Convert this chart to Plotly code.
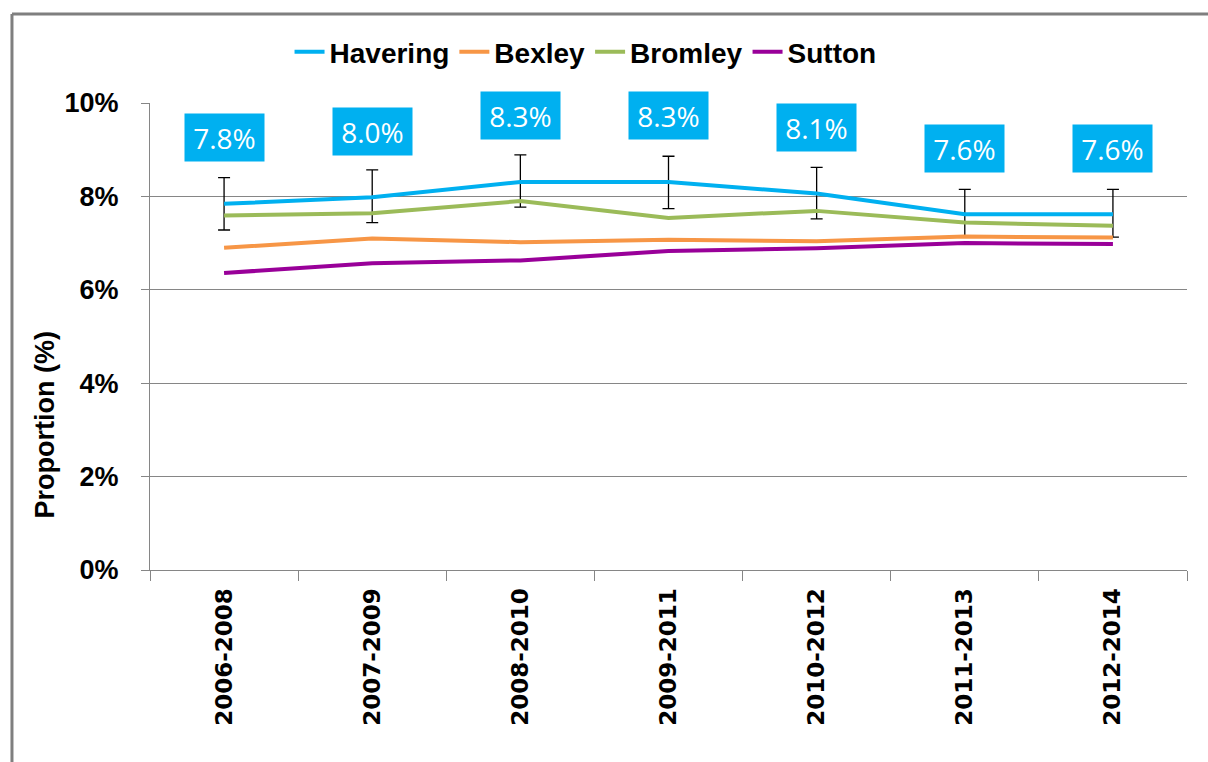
import plotly.graph_objects as go

periods = ["2006-2008", "2007-2009", "2008-2010", "2009-2011", "2010-2012", "2011-2013", "2012-2014"]
havering = [7.84, 7.98, 8.31, 8.31, 8.06, 7.62, 7.62]
havering_upper = [8.40, 8.57, 8.89, 8.86, 8.62, 8.15, 8.15]
havering_lower = [7.28, 7.44, 7.77, 7.74, 7.52, 7.16, 7.13]
bexley = [6.90, 7.10, 7.02, 7.07, 7.04, 7.14, 7.12]
bromley = [7.59, 7.64, 7.90, 7.54, 7.69, 7.44, 7.37]
sutton = [6.36, 6.57, 6.63, 6.83, 6.89, 7.00, 6.98]
y_ticks = [0, 2, 4, 6, 8, 10]
y_tick_text = ["0%", "2%", "4%", "6%", "8%", "10%"]

c_hav = "#00B0F0"
c_bex = "#F79646"
c_bro = "#9BBB59"
c_sut = "#990099"

fig = go.Figure()
fig.add_trace(go.Scatter(
    x=periods, y=havering, mode="lines", name="Havering",
    line=dict(color=c_hav, width=4),
    error_y=dict(type="data", symmetric=False,
                 array=[u - v for u, v in zip(havering_upper, havering)],
                 arrayminus=[v - l for v, l in zip(havering, havering_lower)],
                 color="#000000", thickness=1.3, width=6),
))
fig.add_trace(go.Scatter(x=periods, y=bexley, mode="lines", name="Bexley",
                         line=dict(color=c_bex, width=4)))
fig.add_trace(go.Scatter(x=periods, y=bromley, mode="lines", name="Bromley",
                         line=dict(color=c_bro, width=4)))
fig.add_trace(go.Scatter(x=periods, y=sutton, mode="lines", name="Sutton",
                         line=dict(color=c_sut, width=4)))

for p, v in zip(periods, havering):
    fig.add_annotation(x=p, y=v, text=f"{v:.1f}%", showarrow=False, yshift=66,
                       bgcolor=c_hav, borderpad=0, width=79, height=47,
                       font=dict(family="Open Sans", size=28, color="white"))

# y-axis title (placed like the original, below centre)
fig.add_annotation(xref="paper", yref="paper", x=-0.101, y=0.31, text="Proportion (%)",
                   textangle=-90, showarrow=False, xanchor="center", yanchor="middle",
                   font=dict(family="Liberation Sans", size=27, color="black", weight="bold"))

# outer chart frame: top and left edges only
frame = dict(color="#7F7F7F", width=3)
fig.add_shape(type="line", xref="paper", yref="paper",
              x0=-0.1331, x1=1.3, y0=1.1906, y1=1.1906, line=frame, layer="below")
fig.add_shape(type="line", xref="paper", yref="paper",
              x0=-0.1331, x1=-0.1331, y0=-0.6, y1=1.1906, line=frame, layer="below")

fig.update_layout(
    width=1208, height=762,
    margin=dict(l=150, r=21, t=103, b=192),
    paper_bgcolor="white", plot_bgcolor="white",
    font=dict(family="Liberation Sans", color="black"),
    showlegend=True,
    legend=dict(orientation="h", x=0.42, xanchor="center", y=1.109, yanchor="middle",
                font=dict(family="Liberation Sans", size=28, color="black", weight="bold"),
                itemwidth=30, tracegroupgap=0),
    xaxis=dict(type="category", showgrid=False, showline=True, linecolor="#868686", linewidth=1,
               ticks="outside", tickson="boundaries", ticklen=10, tickcolor="#868686",
               tickangle=-90, ticklabelstandoff=8,
               tickfont=dict(family="DejaVu Sans", size=23, color="black", weight="bold"),
               range=[-0.5, 6.5]),
    yaxis=dict(range=[0, 10], tickvals=y_ticks, ticktext=y_tick_text,
               showgrid=True, gridcolor="#868686", gridwidth=1,
               showline=True, linecolor="#868686", linewidth=1,
               ticks="outside", ticklen=8, tickcolor="#868686", ticklabelstandoff=17,
               tickfont=dict(family="Liberation Sans", size=27, color="black", weight="bold"),
               zeroline=False),
)

fig.write_html("out.html", config={"displayModeBar": False},
               post_script="document.body.style.margin='0';document.body.style.overflow='hidden';")
